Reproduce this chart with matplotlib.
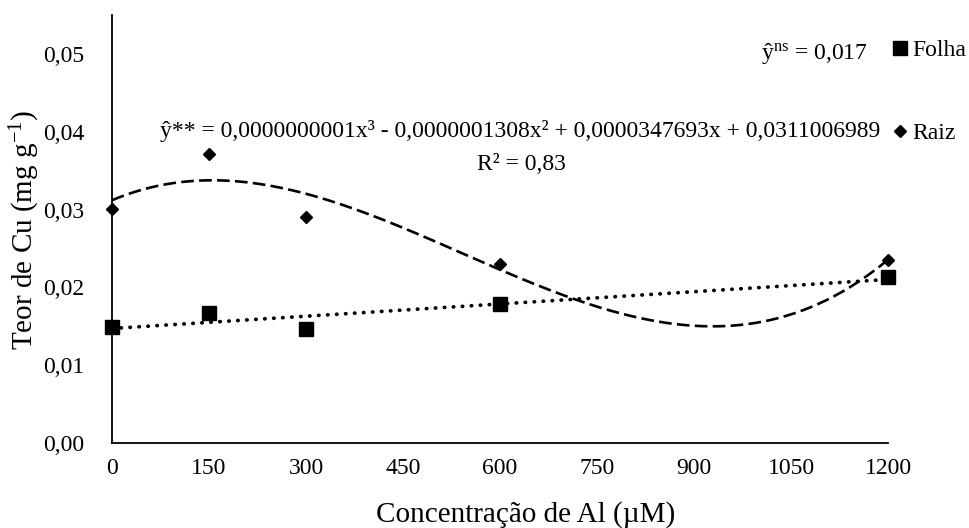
import numpy as np
import matplotlib.pyplot as plt

plt.rcParams['font.family'] = ['Liberation Serif', 'DejaVu Serif']
plt.rcParams['mathtext.fontset'] = 'custom'
plt.rcParams['mathtext.rm'] = 'Liberation Serif'
plt.rcParams['mathtext.it'] = 'Liberation Serif:italic'

# Doses de Al (µM) e teores de Cu (mg g-1)
al = [0, 150, 300, 600, 1200]
folha = [0.0149, 0.0167, 0.0147, 0.0178, 0.0213]
raiz = [0.0301, 0.0371, 0.0291, 0.0230, 0.0235]

x_ticks = [0, 150, 300, 450, 600, 750, 900, 1050, 1200]
y_ticks = [0.00, 0.01, 0.02, 0.03, 0.04, 0.05]

eq_folha = 'ŷ$^{\\mathrm{ns}}$ = 0,017'
eq_raiz = 'ŷ** = 0,0000000001x³ - 0,0000001308x² + 0,0000347693x + 0,0311006989'
r2_raiz = 'R² = 0,83'

fig = plt.figure(figsize=(9.69, 5.28), dpi=100)
ax = fig.add_axes([0.1156, 0.161, 0.8008, 0.8106])

# linhas de tendência (linear para folha, cúbica para raiz)
xx = np.linspace(0, 1200, 300)
c_f = np.polyfit(al, folha, 1)
c_r = np.polyfit(al, raiz, 3)
ax.plot(xx, np.polyval(c_f, xx), color='black', lw=2.7, linestyle=(0, (0.1, 2.3)),
        dash_capstyle='round')
ax.plot(xx, np.polyval(c_r, xx), color='black', lw=1.9, linestyle=(0, (4.8, 2.0)))

h_f, = ax.plot(al, folha, 's', color='black', ms=9.4, clip_on=False)
h_r, = ax.plot(al, raiz, 'D', color='black', ms=6.6, clip_on=False)

ax.set_xlim(0, 1200)
ax.set_ylim(0, 0.055)
ax.set_xticks(x_ticks)
ax.set_yticks(y_ticks)
ax.set_xticklabels([str(v) for v in x_ticks])
ax.set_yticklabels([f'{v:.2f}'.replace('.', ',') for v in y_ticks])
ax.tick_params(length=0, labelsize=17)
ax.tick_params(axis='x', pad=11)
ax.tick_params(axis='y', pad=20)
for s in ['top', 'right']:
    ax.spines[s].set_visible(False)
ax.spines['left'].set_linewidth(1.3)
ax.spines['bottom'].set_linewidth(1.3)

ax.set_xlabel('Concentração de Al (µM)', fontsize=21)
ax.set_ylabel('Teor de Cu (mg g$^{\\mathrm{-1}}$)', fontsize=21)
ax.xaxis.set_label_coords(0.5335, -0.166)
ax.xaxis.label.set_verticalalignment('center')
ax.yaxis.set_label_coords(-0.112, 0.498)
ax.yaxis.label.set_verticalalignment('center')

# legenda em duas entradas separadas
leg_kw = dict(loc='center left', frameon=False, fontsize=17, borderpad=0,
              borderaxespad=0, handlelength=0.55, handletextpad=0.25)
leg1 = ax.legend([h_f], ['Folha'], bbox_to_anchor=(1.0077, 0.918), **leg_kw)
ax.add_artist(leg1)
ax.legend([h_r], ['Raiz'], bbox_to_anchor=(1.0077, 0.724), **leg_kw)

ax.text(0.974, 0.897, eq_folha, transform=ax.transAxes, fontsize=17,
        ha='right', va='baseline')
ax.text(0.526, 0.715, eq_raiz, transform=ax.transAxes, fontsize=17,
        ha='center', va='baseline')
ax.text(0.528, 0.638, r2_raiz, transform=ax.transAxes, fontsize=17,
        ha='center', va='baseline')

fig.savefig('out.png', dpi=100)
